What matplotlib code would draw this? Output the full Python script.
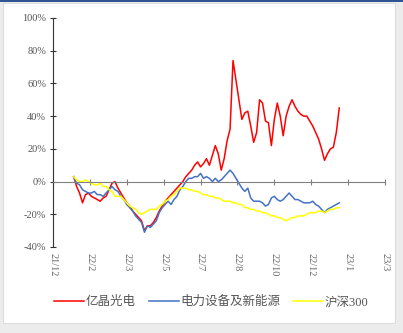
import matplotlib.pyplot as plt
import matplotlib.patches as mpatches
import pandas as pd

plt.rcParams["font.family"] = ["Liberation Serif", "Noto Sans CJK SC", "DejaVu Sans"]

# sample dates (4-day grid over the trading year)
dates = pd.date_range("2022-01-17", periods=91, freq="4D")

# cumulative return, %
yijing = [
    3, -3, -7, -13, -8, -7, -9, -10, -11, -12,
    -10, -9, -5, -1, 0, -4, -7, -10, -13, -15,
    -18, -20, -22, -24, -30, -27, -27, -25, -22, -18,
    -15, -12, -10, -8, -6, -4, -2, 0, 3, 5,
    7, 10, 12, 9, 11, 14, 10, 16, 22, 17,
    7, 14, 25, 32, 74, 62, 50, 38, 42, 43,
    34, 24, 30, 50, 48, 37, 36, 22, 38, 48,
    40, 28, 40, 46, 50, 46, 43, 41, 40, 40,
    37, 34, 30, 26, 20, 13, 17, 20, 21, 30,
    45,
]
power_equip = [
    3, -1, -2, -5, -6, -7, -7, -6, -8, -8,
    -9, -7, -5, -3, -5, -6, -9, -11, -14, -16,
    -18, -21, -23, -25, -31, -27, -28, -26, -24, -19,
    -16, -14, -12, -14, -11, -9, -5, -3, 0, 2,
    2, 3, 3, 5, 2, 3, 2, 0, 2, 0,
    1, 3, 5, 7, 5, 2, -1, -4, -6, -4,
    -10, -12, -12, -12, -13, -15, -14, -10, -9, -11,
    -12, -11, -9, -7, -9, -11, -11, -12, -13, -13,
    -13, -12, -14, -15, -17, -19, -17, -16, -15, -14,
    -13,
]
csi300 = [
    3, 1, 0, 0, 1, 0, -1, -2, -2, -1,
    -3, -3, -5, -6, -9, -9, -9, -11, -13, -15,
    -16, -17, -19, -20, -19, -18, -17, -17, -17, -15,
    -14, -12, -11, -9, -8, -6, -4, -4, -4, -5,
    -5, -6, -6, -7, -8, -8, -9, -9, -10, -10,
    -11, -12, -12, -12, -13, -13, -14, -14, -16, -16,
    -17, -17, -18, -18, -19, -19, -20, -21, -21, -22,
    -22, -23, -24, -23, -22, -22, -21, -21, -21, -20,
    -19, -19, -19, -18, -18, -19, -18, -17, -17, -16,
    -16,
]

tick_dates = pd.date_range("2021-12-20", periods=10, freq="50D")
tick_labels = ["21/12", "22/2", "22/3", "22/5", "22/7", "22/8", "22/10", "22/12", "23/1", "23/3"]
y_ticks = [-40, -20, 0, 20, 40, 60, 80, 100]

fig = plt.figure(figsize=(4.03, 3.33), dpi=100)
fig.patch.set_facecolor("#ececec")
fig.patches.append(mpatches.Rectangle((3 / 403, 10 / 333), 392 / 403, 320 / 333,
                                      transform=fig.transFigure, facecolor="white",
                                      edgecolor="#dddddd", linewidth=0.8, zorder=-2))
fig.patches.append(mpatches.Rectangle((0, 331 / 333), 1, 2 / 333, transform=fig.transFigure,
                                      facecolor="#2f5597", edgecolor="none", zorder=-1))

ax = fig.add_axes([53 / 403, 86 / 333, 332 / 403, 229 / 333])
ax.set_facecolor("none")
ax.set_zorder(2)

ax.plot(dates, yijing, color="#ff0000", linewidth=1.1, label="亿晶光电")
ax.plot(dates, power_equip, color="#4472c4", linewidth=1.1, label="电力设备及新能源")
ax.plot(dates, csi300, color="#ffff00", linewidth=1.1, label="沪深300")

ax.set_ylim(-40, 100)
ax.set_xlim(tick_dates[0], tick_dates[-1])
ax.set_yticks(y_ticks)
ax.set_yticklabels([f"{v}%" for v in y_ticks], fontsize=7.5, color="#555555")

ax.spines["top"].set_visible(False)
ax.spines["right"].set_visible(False)
ax.spines["left"].set_color("#333333")
ax.spines["left"].set_linewidth(0.8)
ax.spines["bottom"].set_position(("data", 0))
ax.spines["bottom"].set_color("#808080")
ax.spines["bottom"].set_linewidth(0.8)
ax.tick_params(axis="y", direction="inout", length=4, width=0.8, color="#333333", pad=3)
ax.tick_params(axis="x", direction="inout", length=4, width=0.8, color="#808080")

ax.set_xticks(tick_dates)
ax.set_xticklabels([])
for d, lab in zip(tick_dates, tick_labels):
    ax.text(d, -0.025, lab, transform=ax.get_xaxis_transform(), rotation=-90,
            ha="center", va="top", fontsize=7.5, color="#666666")

ax.legend(loc="upper center", bbox_to_anchor=(0.477, -0.165), ncol=3, frameon=False,
          fontsize=9, handlelength=2.4, handletextpad=0.15, columnspacing=1.0,
          labelcolor="#555555")

fig.savefig("out.png", dpi=100)
